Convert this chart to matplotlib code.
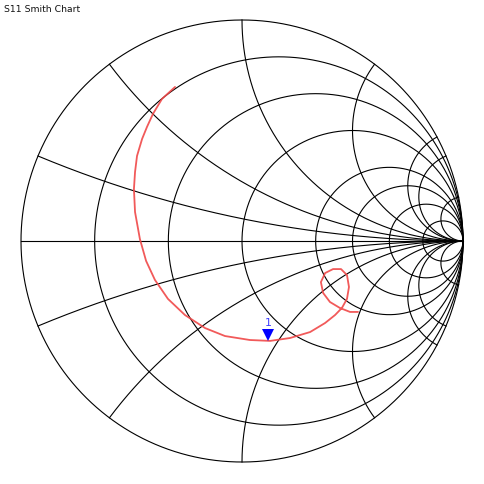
import numpy as np
import matplotlib
matplotlib.use('Agg')
import matplotlib.pyplot as plt
from matplotlib.transforms import ScaledTranslation

# grid values of the chart
rValues = [0.2, 0.5, 1, 2, 3, 5, 10]
xValues = [0.2, 0.5, 1, 2, 4, 5, 10]

# S11 trace, as reflection coefficient
s11Re = [-0.303, -0.362, -0.403, -0.430, -0.452, -0.475, -0.484, -0.489, -0.484, -0.462,
         -0.434, -0.394, -0.335, -0.258, -0.167, -0.077, 0.036, 0.127, 0.217, 0.308,
         0.376, 0.421, 0.452, 0.475, 0.484, 0.475, 0.448, 0.412, 0.376, 0.357,
         0.367, 0.398, 0.443, 0.489, 0.525]
s11Im = [0.697, 0.643, 0.575, 0.516, 0.462, 0.385, 0.312, 0.235, 0.131, 0.009,
         -0.090, -0.176, -0.262, -0.335, -0.394, -0.430, -0.448, -0.452, -0.439, -0.412,
         -0.371, -0.335, -0.303, -0.262, -0.208, -0.154, -0.127, -0.127, -0.145, -0.186,
         -0.235, -0.276, -0.303, -0.321, -0.321]

markerRe = [0.118]
markerIm = [-0.452]
markerLabel = ['1']

fig = plt.figure(figsize=(4.85, 4.85), dpi=100)
ax = fig.add_axes([0, 0, 1, 1])
ax.set_xlim(-1.095, 1.0995)
ax.set_ylim(-1.0995, 1.095)
ax.set_aspect('equal')
ax.axis('off')

lineStyle = dict(color='black', lw=0.8)

# outer circle
t = np.linspace(0, 2 * np.pi, 800)
ax.plot(np.cos(t), np.sin(t), **lineStyle)

# constant resistance circles
for r in rValues:
    c = r / (1 + r)
    rad = 1 / (1 + r)
    ax.plot(c + rad * np.cos(t), rad * np.sin(t), **lineStyle)

# constant reactance arcs
rr = np.concatenate([[0], np.logspace(-4, 5, 3000)])
for x in xValues:
    for sign in (1, -1):
        z = rr + 1j * sign * x
        g = (z - 1) / (z + 1)
        ax.plot(g.real, g.imag, **lineStyle)
ax.plot([-1, 1], [0, 0], **lineStyle)

ax.plot(s11Re, s11Im, color='#f04848', lw=1.3, alpha=0.9, solid_capstyle='round')

for mr, mi, lab in zip(markerRe, markerIm, markerLabel):
    shift = ax.transData + ScaledTranslation(0, 4 / 72, fig.dpi_scale_trans)
    ax.plot([mr], [mi], marker='v', color='#0000ff', ms=9, markeredgewidth=0, transform=shift)
    ax.annotate(lab, xy=(mr, mi), xytext=(0, 10), textcoords='offset points',
                ha='center', va='bottom', color='#4040ff', fontsize=8)

fig.text(4 / 485, 1 - 5 / 485, 'S11 Smith Chart', ha='left', va='top', fontsize=6.7, color='#101010')

fig.savefig('out.png', dpi=100, facecolor='white')
